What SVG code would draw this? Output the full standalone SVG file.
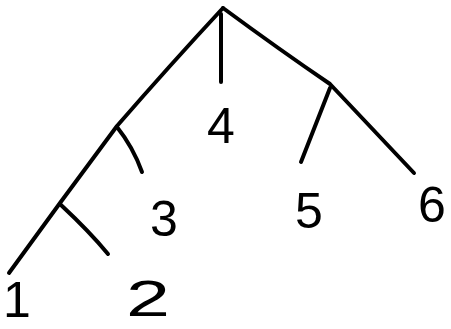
<svg xmlns="http://www.w3.org/2000/svg" width="451" height="329" viewBox="0 0 451 329">
<style>
.e{fill:none;stroke:#000;stroke-width:4;stroke-linecap:round;stroke-linejoin:round}
.t{font-family:"Liberation Sans",Arial,sans-serif;font-size:50px;fill:#000;text-anchor:middle}
</style>
<rect width="451" height="329" fill="#fff"/>
<g id="connectors">
<path class="e" d="M223,8 Q170,65 117,126 L60,203 L9,273"/>
<path class="e" d="M117,127 Q133,147 142,172"/>
<path class="e" d="M61,205 Q90,232 108,254"/>
<path class="e" d="M221,14 L221,82"/>
<path class="e" d="M223,8 Q280,50 330,84 L414,173"/>
<path class="e" d="M330,88 L301,162"/>
</g>
<g id="n4"><text class="t" x="221" y="143">4</text></g>
<g id="n3"><text class="t" x="164" y="236" font-size="58">3</text></g>
<g id="n5"><text class="t" x="309" y="228">5</text></g>
<g id="n6"><text class="t" x="432" y="222" font-size="56">6</text></g>
<g id="n1"><text class="t" x="3" y="317" font-size="48" style="text-anchor:start">1</text></g>
<g id="n2"><text class="t" x="148" y="316" font-size="42" textLength="44" lengthAdjust="spacingAndGlyphs">2</text></g>
</svg>
